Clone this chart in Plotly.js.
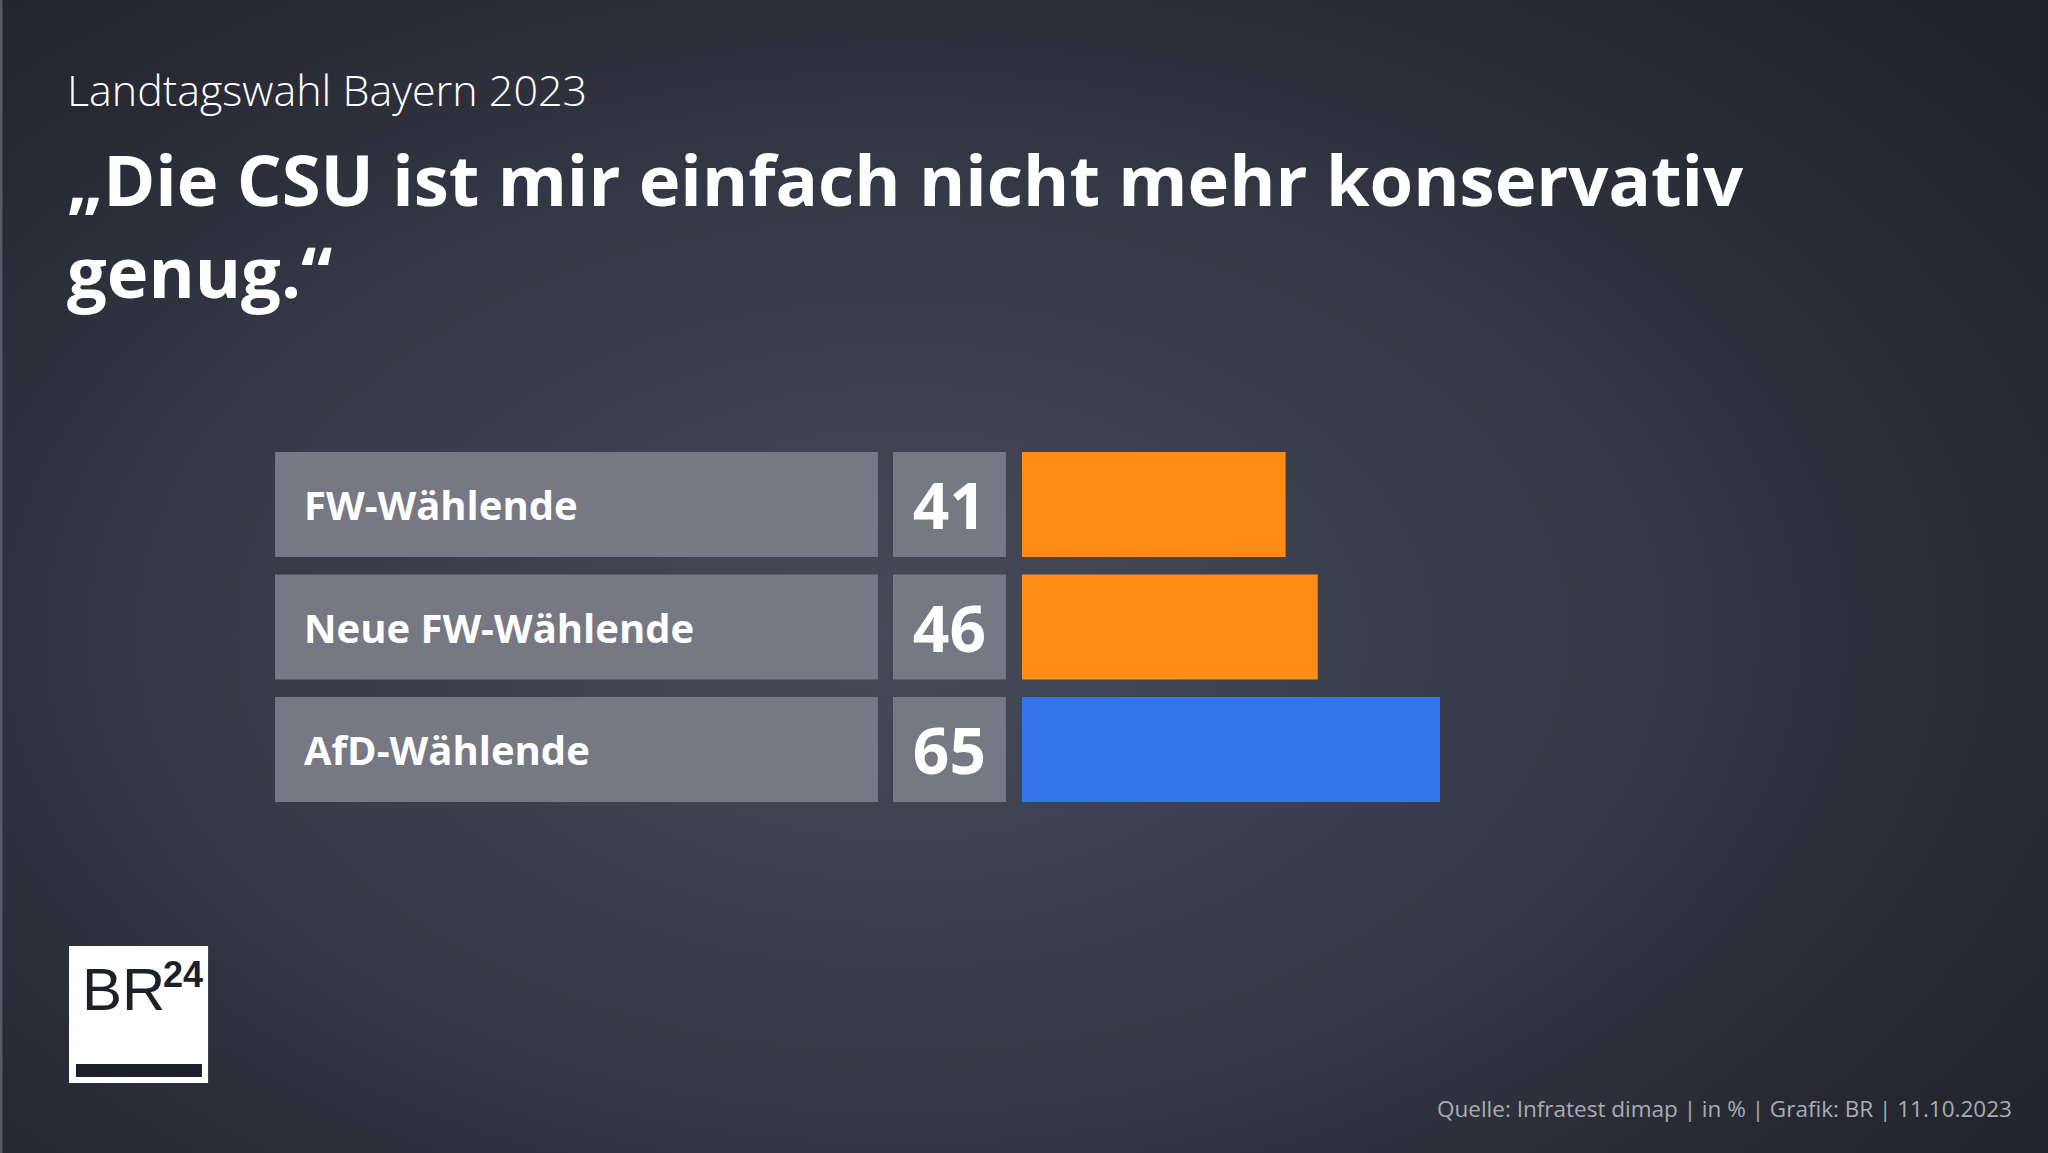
<!DOCTYPE html>
<html><head><meta charset="utf-8">
<script src="https://cdn.plot.ly/plotly-3.0.1.min.js"></script>
<style>
html,body{margin:0;padding:0;width:2048px;height:1153px;overflow:hidden;
background: radial-gradient(ellipse 72% 80% at 44% 55%, #454a59 0%, #373b49 45%, #262932 80%, #20232b 100%);}
#chart{width:2048px;height:1153px;}
</style></head><body><div id="chart"></div>
<script>
const categories = ["FW-Wählende", "Neue FW-Wählende", "AfD-Wählende"];
const values = [41, 46, 65];
const barColors = ["#FF8C17", "#FF8C17", "#3575EB"];
const subtitle = "Landtagswahl Bayern 2023";
const titleText = "„Die CSU ist mir einfach nicht mehr konservativ<br>genug.“";
const source = "Quelle: Infratest dimap | in % | Grafik: BR | 11.10.2023";

const FONT = "Open Sans, Noto Sans, sans-serif";
const boxFill = categories.map(() => 1);
const BOX = "#767984";

const traces = [
  {type: 'bar', orientation: 'h', y: categories, x: boxFill, xaxis: 'x2', yaxis: 'y',
   marker: {color: BOX}, hoverinfo: 'skip'},
  {type: 'bar', orientation: 'h', y: categories, x: boxFill, xaxis: 'x3', yaxis: 'y',
   marker: {color: BOX}, hoverinfo: 'skip',
   text: values.map(String), textposition: 'inside', insidetextanchor: 'middle', textangle: 0,
   textfont: {family: FONT, size: 64, color: '#ffffff', weight: 700}},
  {type: 'bar', orientation: 'h', y: categories, x: values, xaxis: 'x', yaxis: 'y',
   marker: {color: barColors}, hovertemplate: '%{y}: %{x}<extra></extra>'}
];

const labelAnnots = categories.map(c => ({
  xref: 'x2', yref: 'y', x: 0.044, y: c, text: c, showarrow: false,
  xanchor: 'left', yanchor: 'middle',
  font: {family: FONT, size: 40, color: '#ffffff', weight: 700}
}));

const layout = {
  width: 2048, height: 1153,
  margin: {l: 0, r: 0, t: 0, b: 0},
  paper_bgcolor: 'rgba(0,0,0,0)', plot_bgcolor: 'rgba(0,0,0,0)',
  showlegend: false, barmode: 'overlay', bargap: 0.143,
  title: {
    text: titleText, xref: 'paper', yref: 'container', x: 0.0327, xanchor: 'left',
    y: 0.821, yanchor: 'top',
    font: {family: FONT, size: 70.5, color: '#ffffff', weight: 700}
  },
  xaxis: {domain: [0.4990, 0.8130], range: [0, 100], visible: false, anchor: 'y', fixedrange: true},
  xaxis2: {domain: [0.1343, 0.4287], range: [0, 1], visible: false, anchor: 'y', fixedrange: true},
  xaxis3: {domain: [0.4360, 0.4912], range: [0, 1], visible: false, anchor: 'y', fixedrange: true},
  yaxis: {domain: [0.2968, 0.6156], type: 'category', autorange: 'reversed', visible: false, fixedrange: true},
  shapes: [
    {type: 'rect', xref: 'paper', yref: 'paper', x0: 0, x1: 0.0012, y0: 0, y1: 1,
     fillcolor: '#575b67', line: {width: 0}, layer: 'below'},
    {type: 'rect', xref: 'paper', yref: 'paper', x0: 0.0337, x1: 0.1016, y0: 0.0607, y1: 0.1795,
     fillcolor: '#ffffff', line: {width: 0}},
    {type: 'rect', xref: 'paper', yref: 'paper', x0: 0.0371, x1: 0.0986, y0: 0.0659, y1: 0.0772,
     fillcolor: '#1e2029', line: {width: 0}}
  ],
  annotations: [
    {xref: 'paper', yref: 'paper', x: 0.0315, y: 0.922, xanchor: 'left', yanchor: 'middle',
     text: subtitle, showarrow: false,
     font: {family: FONT, size: 43, color: '#ffffff', weight: 300}},
    {xref: 'paper', yref: 'paper', x: 0.9834, y: 0.0385, xanchor: 'right', yanchor: 'middle',
     text: source, showarrow: false,
     font: {family: FONT, size: 22.5, color: '#a9acb4'}},
    {xref: 'paper', yref: 'paper', x: 0.0391, y: 1 - 989/1153, xanchor: 'left', yanchor: 'middle',
     text: 'BR', showarrow: false,
     font: {family: 'Liberation Sans Narrow, sans-serif', size: 60, color: '#1e2029'}},
    {xref: 'paper', yref: 'paper', x: 0.0787, y: 1 - 974/1153, xanchor: 'left', yanchor: 'middle',
     text: '24', showarrow: false,
     font: {family: 'Liberation Sans Narrow, sans-serif', size: 36, color: '#1e2029', weight: 700}}
  ].concat(labelAnnots)
};

Plotly.newPlot('chart', traces, layout, {displayModeBar: false, staticPlot: true});
</script>
</body></html>
